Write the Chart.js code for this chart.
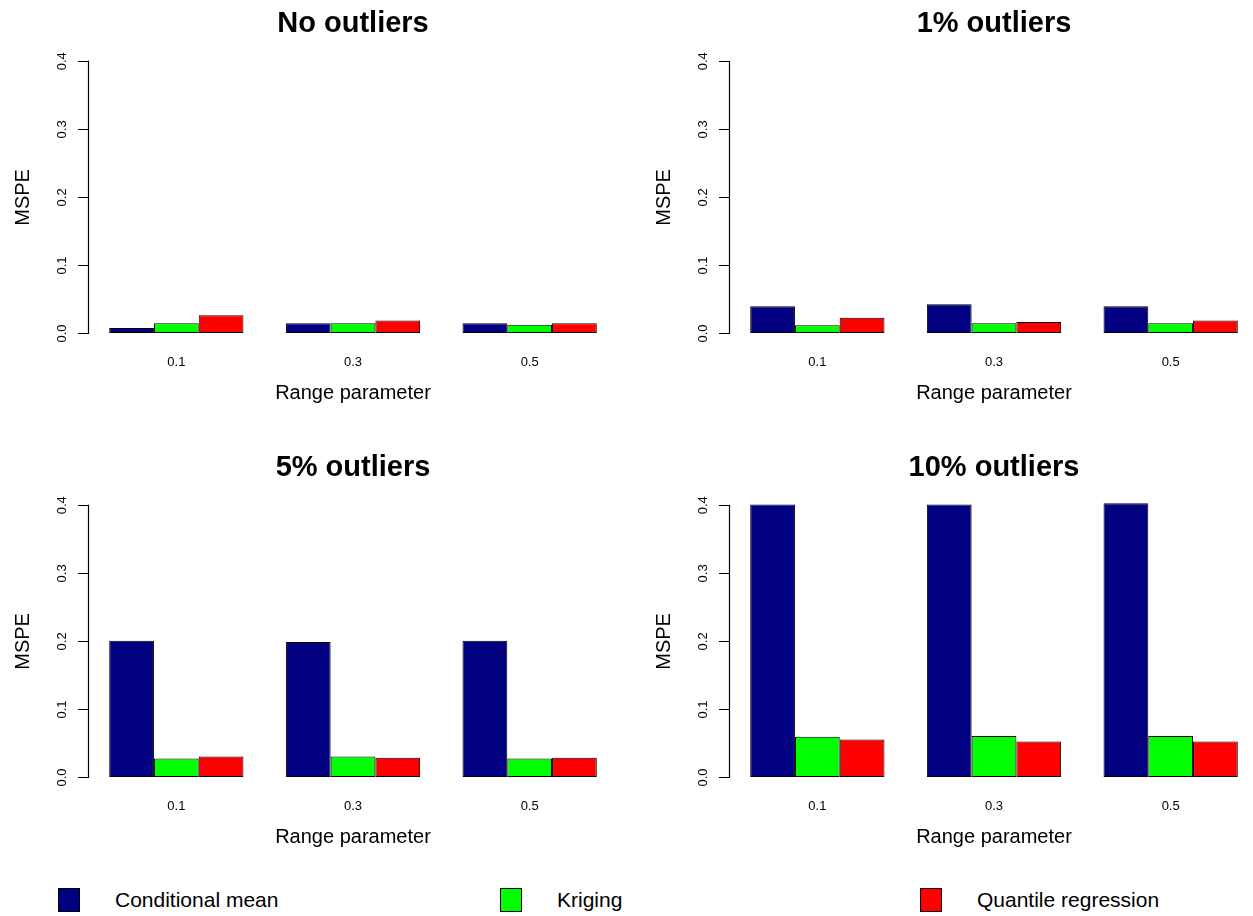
<!DOCTYPE html>
<html>
<head>
<meta charset="utf-8">
<title>MSPE by range parameter</title>
<script src="https://cdn.jsdelivr.net/npm/chart.js@4.4.1/dist/chart.umd.min.js"></script>
<style>
  html, body { margin: 0; padding: 0; background: #fff; overflow: hidden; width: 1253px; height: 916px; }
  .panel { position: absolute; width: 626px; height: 420px; }
  .panel canvas { display: block; }
  #legend { position: absolute; left: 0; top: 876px; width: 1253px; height: 40px;
            font-family: 'Liberation Sans', Arial, Helvetica, sans-serif; font-size: 21px; color: #000; }
  .key { position: absolute; top: 12px; width: 22px; height: 24px; border: 1px solid #000; box-sizing: border-box; }
  .name { position: absolute; top: 13px; line-height: 22px; white-space: nowrap; }
</style>
</head>
<body>
<div class="panel" style="left:0;top:0"><canvas id="p1" width="626" height="420"></canvas></div>
<div class="panel" style="left:641px;top:0"><canvas id="p2" width="626" height="420"></canvas></div>
<div class="panel" style="left:0;top:444px"><canvas id="p3" width="626" height="420"></canvas></div>
<div class="panel" style="left:641px;top:444px"><canvas id="p4" width="626" height="420"></canvas></div>
<div id="legend"></div>
<script>
// Range parameter values on the x axis
const categories = ['0.1', '0.3', '0.5'];
// Methods compared in every panel
const seriesNames = ['Conditional mean', 'Kriging', 'Quantile regression'];
const seriesColors = ['#000080', '#00ff00', '#ff0000'];
// Outlier scenarios
const panelTitles = ['No outliers', '1% outliers', '5% outliers', '10% outliers'];
const yTicks = [0, 0.1, 0.2, 0.3, 0.4];

// MSPE, no outliers
const noOutCondMean = [0.008, 0.015, 0.015];
const noOutKriging  = [0.015, 0.015, 0.013];
const noOutQuantile = [0.027, 0.019, 0.015];
// MSPE, 1% outliers
const out1CondMean = [0.040, 0.043, 0.040];
const out1Kriging  = [0.012, 0.015, 0.015];
const out1Quantile = [0.023, 0.017, 0.019];
// MSPE, 5% outliers
const out5CondMean = [0.201, 0.199, 0.201];
const out5Kriging  = [0.028, 0.031, 0.028];
const out5Quantile = [0.031, 0.029, 0.029];
// MSPE, 10% outliers
const out10CondMean = [0.401, 0.401, 0.403];
const out10Kriging  = [0.060, 0.061, 0.061];
const out10Quantile = [0.056, 0.053, 0.053];

const FONT = "'Liberation Sans', Arial, Helvetica, sans-serif";

// y axis line drawn only over the labelled range (0 to 0.4)
const axisLine = {
  id: 'axisLine',
  afterDraw(chart) {
    const ys = chart.scales.y;
    const ctx = chart.ctx;
    const x = Math.round(ys.right) + 0.5;
    ctx.save();
    ctx.strokeStyle = '#000';
    ctx.lineWidth = 1.2;
    ctx.beginPath();
    ctx.moveTo(x, ys.getPixelForValue(yTicks[0]) + 0.5);
    ctx.lineTo(x, ys.getPixelForValue(yTicks[yTicks.length - 1]) - 0.5);
    ctx.stroke();
    ctx.restore();
  }
};

function makePanel(id, title, cm, kr, qr) {
  const values = [cm, kr, qr];
  return new Chart(document.getElementById(id), {
    type: 'bar',
    data: {
      labels: categories,
      datasets: seriesNames.map((name, i) => ({
        label: name,
        data: values[i],
        backgroundColor: seriesColors[i],
        borderColor: '#000',
        borderWidth: 1,
        borderSkipped: false,
        barPercentage: 1,
        categoryPercentage: 0.76
      }))
    },
    options: {
      responsive: false,
      animation: false,
      events: [],
      layout: { padding: { left: 0, right: 8, top: 0, bottom: 0 } },
      plugins: {
        legend: { display: false },
        tooltip: { enabled: false },
        title: {
          display: true, text: title, fullSize: false, color: '#000',
          font: { family: FONT, size: 29, weight: 'bold' },
          padding: { top: 6.3, bottom: 9.3 }
        }
      },
      scales: {
        x: {
          grid: { display: false, drawTicks: false },
          border: { display: false },
          ticks: { color: '#000', font: { family: FONT, size: 13 }, padding: 10 },
          title: {
            display: true, text: 'Range parameter', color: '#000',
            font: { family: FONT, size: 20 }, padding: { top: 0, bottom: 15 }
          },
          afterFit: s => { s.height = 75.6; }
        },
        y: {
          min: -0.016, max: 0.416, bounds: 'data',
          afterBuildTicks: s => { s.ticks = yTicks.map(v => ({ value: v })); },
          grid: { drawOnChartArea: false, drawTicks: true, tickLength: 10, color: '#000', lineWidth: 1 },
          border: { display: false },
          ticks: {
            color: '#000', font: { family: FONT, size: 13 }, padding: 6.5,
            minRotation: 90, maxRotation: 90, crossAlign: 'center', autoSkip: false,
            callback: v => Number(v).toFixed(1)
          },
          title: {
            display: true, text: 'MSPE', color: '#000',
            font: { family: FONT, size: 20 }, padding: { top: 11.5, bottom: 0 }
          },
          afterFit: s => { s.width = 88; }
        }
      }
    },
    plugins: [axisLine]
  });
}

makePanel('p1', panelTitles[0], noOutCondMean, noOutKriging, noOutQuantile);
makePanel('p2', panelTitles[1], out1CondMean, out1Kriging, out1Quantile);
makePanel('p3', panelTitles[2], out5CondMean, out5Kriging, out5Quantile);
makePanel('p4', panelTitles[3], out10CondMean, out10Kriging, out10Quantile);

// Shared legend row under the panels
const legendX = [58, 500, 920];
const legend = document.getElementById('legend');
seriesNames.forEach((name, i) => {
  const key = document.createElement('div');
  key.className = 'key';
  key.style.left = legendX[i] + 'px';
  key.style.background = seriesColors[i];
  legend.appendChild(key);
  const lab = document.createElement('div');
  lab.className = 'name';
  lab.style.left = (legendX[i] + 57) + 'px';
  lab.textContent = name;
  legend.appendChild(lab);
});
</script>
</body>
</html>
